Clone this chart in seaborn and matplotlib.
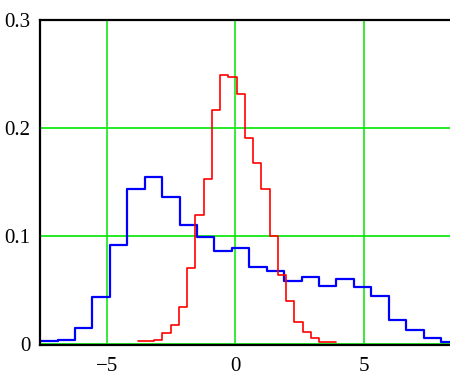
import numpy as np
import pandas as pd
import matplotlib
matplotlib.use("Agg")
import matplotlib.pyplot as plt
import seaborn as sns

# histogram heights
blue_start = -7.62
blue_width = 0.68
blue_vals = [0.002, 0.0034, 0.0145, 0.043, 0.091, 0.1435, 0.155, 0.136,
             0.110, 0.0985, 0.086, 0.089, 0.0707, 0.067, 0.0577, 0.0614,
             0.0537, 0.0595, 0.052, 0.0444, 0.0219, 0.0123, 0.0053, 0.0016]

red_start = -3.816
red_width = 0.322
red_vals = [0.0019, 0.0019, 0.0034, 0.0093, 0.017, 0.0336, 0.0704, 0.119,
            0.153, 0.2167, 0.249, 0.247, 0.232, 0.1905, 0.168, 0.1438,
            0.0994, 0.0636, 0.039, 0.0204, 0.0108, 0.0049, 0.0016, 0.0016]

x_ticks = [-5, 0, 5]
y_ticks = [0, 0.1, 0.2, 0.3]
y_labels = ["0", "0.1", "0.2", "0.3"]

sns.set_style("white")
plt.rcParams["font.family"] = ["Liberation Serif", "DejaVu Serif"]

fig = plt.figure(figsize=(4.5, 3.71), dpi=100)
ax = fig.add_axes([40.3 / 450, (371 - 344.8) / 371, 1 - 40.3 / 450, (344.8 - 20.3) / 371])

green = "#00e600"
for xv in x_ticks:
    ax.axvline(xv, color=green, lw=1.1, zorder=1)
for yv in y_ticks:
    ax.axhline(yv, color=green, lw=1.2, zorder=1, clip_on=False)


def draw_hist(start, width, vals, color, lw):
    edges = start + width * np.arange(len(vals) + 1)
    df = pd.DataFrame({"x": edges[:-1] + width / 2, "w": vals})
    sns.histplot(data=df, x="x", weights="w", bins=list(edges), element="step",
                 fill=False, color=color, linewidth=lw, ax=ax, zorder=3)


draw_hist(blue_start, blue_width, blue_vals, "#0000ff", 1.6)
draw_hist(red_start, red_width, red_vals, "#ff0000", 1.2)

ax.set_xlim(-7.614, 8.371)
ax.set_ylim(-0.0012, 0.2983)
ax.set_xticks(x_ticks)
ax.set_xticklabels([str(v).replace("-", "\u2212") for v in x_ticks])
ax.set_yticks(y_ticks)
ax.set_yticklabels(y_labels)
ax.tick_params(axis="both", length=0, labelsize=15, colors="black")
ax.tick_params(axis="y", pad=7)
ax.tick_params(axis="x", pad=9)
ax.set_xlabel("")
ax.set_ylabel("")

for side in ["left", "bottom", "top"]:
    ax.spines[side].set_color("black")
    ax.spines[side].set_linewidth(1.6)
    ax.spines[side].set_zorder(4)
ax.spines["right"].set_visible(False)

fig.savefig("out.png", dpi=100)
